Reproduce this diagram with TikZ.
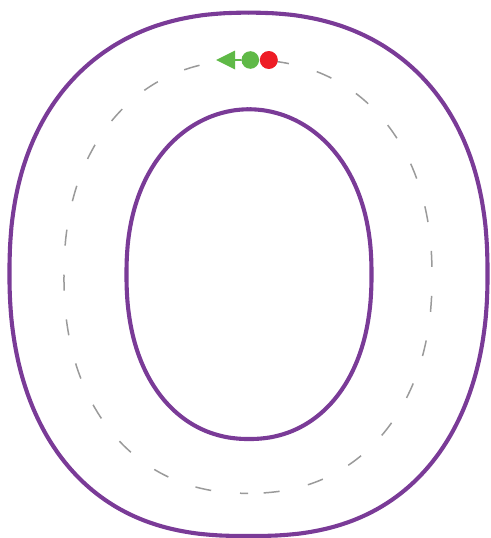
\documentclass[tikz,border=0pt]{standalone}
\definecolor{trackpurple}{HTML}{7A3B97}
\definecolor{dashgray}{HTML}{9A9A9A}
\definecolor{cargreen}{HTML}{5FB947}
\definecolor{carred}{HTML}{EE1C25}
\tikzset{
  declare function={
    sx(\t,\n)=sign(cos(\t))*pow(max(abs(cos(\t)),0.0001),2/\n);
    sy(\t,\n)=sign(sin(\t))*pow(max(abs(sin(\t)),0.0001),2/\n);
  },
  trackline/.style={draw=trackpurple, line width=4.1pt},
  laneline/.style={draw=dashgray, line width=1.5pt, dash pattern=on 16pt off 29pt, dash phase=8pt},
  dot/.style={circle, inner sep=0pt, minimum size=18pt},
}
\begin{document}
\begin{tikzpicture}[x=1pt,y=-1pt]
\useasboundingbox (0,0) rectangle (490,538);
% outer border: top half then bottom half
\draw[trackline]
  plot[domain=180:360, samples=181, variable=\t]
    ({248.5+239*sx(\t,2.3)}, {274+261.3*sy(\t,2.3)})
  -- plot[domain=0:180, samples=181, variable=\t]
    ({248.5+239*sx(\t,2.5)}, {274+262*sy(\t,2.2)}) -- cycle;
% inner border
\draw[trackline]
  plot[domain=180:360, samples=181, variable=\t]
    ({249+122.5*sx(\t,2.0)}, {274+164.7*sy(\t,2.25)})
  -- plot[domain=0:180, samples=181, variable=\t]
    ({249+122.5*sx(\t,2.15)}, {274+165*sy(\t,2.25)}) -- cycle;
% dashed centre line, starting at the bottom
\draw[laneline]
  plot[domain=90:180, samples=91, variable=\t]
    ({248+184*sx(\t,2.2)}, {276.4+216.9*sy(\t,2.2)})
  -- plot[domain=180:360, samples=181, variable=\t]
    ({248+184*sx(\t,2.2)}, {276.4+216.4*sy(\t,2.2)})
  -- plot[domain=0:90, samples=91, variable=\t]
    ({248+184*sx(\t,2.2)}, {276.4+216.9*sy(\t,2.2)});
% cars
\node[dot, fill=carred] (red) at (268.8,60) {};
\node[dot, fill=cargreen, minimum size=17.6pt] (green) at (250.3,60) {};
\coordinate (tip) at (216,60);
\coordinate (base) at (235,60);
\fill[cargreen] (tip) -- (235,50.5) -- (235,69.5) -- cycle;
\draw[cargreen, line width=2pt] (base) -- (green.west);
\end{tikzpicture}
\end{document}
